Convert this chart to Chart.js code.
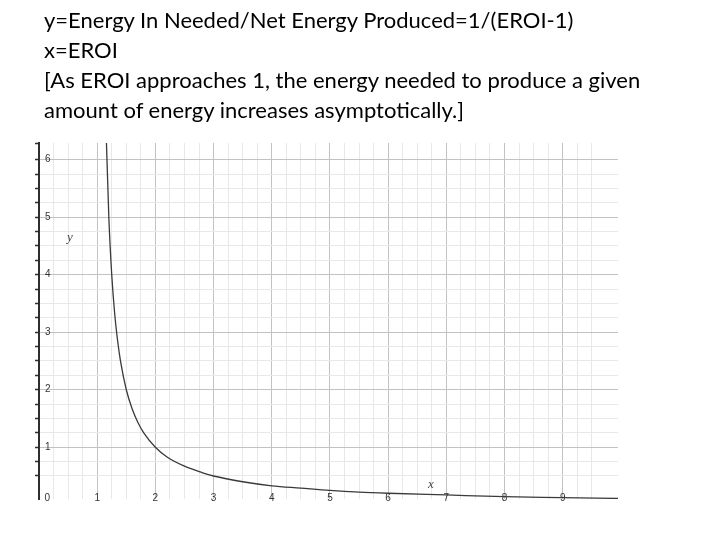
<!DOCTYPE html>
<html>
<head>
<meta charset="utf-8">
<script src="https://cdn.jsdelivr.net/npm/chart.js@4/dist/chart.umd.min.js"></script>
<style>
  body { margin: 0; background: #fff; }
  #wrap { position: relative; width: 720px; height: 540px; }
  #chart { position: absolute; left: 0; top: 0; }
  #caption { position: absolute; left: 44px; top: 5px; font-family: Lato, "Open Sans", sans-serif;
             font-size: 22px; line-height: 30px; color: #000; white-space: nowrap; }
  .axname { position: absolute; font-family: "Liberation Serif", "DejaVu Serif", serif;
            font-style: italic; font-size: 13px; color: #444; }
</style>
</head>
<body>
<div id="wrap">
  <canvas id="chart" width="720" height="540"></canvas>
  <div id="caption">
    y=Energy In Needed/Net Energy Produced=1/(EROI-1)<br>
    x=EROI<br>
    [As EROI approaches 1, the energy needed to produce a given<br>
    amount of energy increases asymptotically.]
  </div>
  <div class="axname" style="left:67px; top:229px;">y</div>
  <div class="axname" style="left:428px; top:476px;">x</div>
</div>
<script>
// points (EROI, energy in / net energy)
const eroi = [1.15, 1.2, 1.25, 1.3, 1.35, 1.4, 1.5, 1.6, 1.7, 1.8, 2, 2.2, 2.5, 2.8, 3, 3.5, 4, 4.5, 5, 5.5, 6, 7, 8, 9, 9.95];
const energyIn = [6.6, 5.0, 4.0, 3.33, 2.86, 2.5, 2.0, 1.67, 1.43, 1.25, 1.0, 0.83, 0.67, 0.56, 0.5, 0.4, 0.33, 0.29, 0.25, 0.22, 0.2, 0.17, 0.14, 0.125, 0.11];

// axis ranges and tick labels
const xRange = [0, 9.95];
const yRange = [0.1, 6.29];
const xLabels = ['      0', '1', '2', '3', '4', '5', '6', '7', '8', '9'];
const yLabels = ['', '1', '2', '3', '4', '5', '6'];

const points = eroi.map((x, i) => ({x: x, y: energyIn[i]}));

function onStep(v, step) {
  return Math.abs(v / step - Math.round(v / step)) < 1e-6;
}
function gridColor(ctx) {
  const v = ctx.tick ? ctx.tick.value : 0;
  if (!onStep(v, 0.25)) return 'rgba(0,0,0,0)';
  return onStep(v, 1) ? '#c2c2c2' : '#e8e8e8';
}

new Chart(document.getElementById('chart'), {
  type: 'scatter',
  data: {
    datasets: [{
      data: points,
      showLine: true,
      borderColor: '#3a3a3a',
      borderWidth: 1.3,
      pointRadius: 0,
      cubicInterpolationMode: 'monotone'
    }]
  },
  options: {
    responsive: false,
    animation: false,
    layout: { padding: { left: 29, right: 102, top: 143, bottom: 41 } },
    plugins: { legend: { display: false }, tooltip: { enabled: false } },
    scales: {
      x: {
        type: 'linear',
        min: xRange[0],
        max: xRange[1],
        afterFit: (s) => { s.height = 0; },
        border: { display: false },
        grid: { color: gridColor, lineWidth: 1, drawTicks: false },
        ticks: {
          stepSize: 0.25,
          autoSkip: false,
          maxRotation: 0,
          mirror: true,
          padding: -5,
          color: '#333',
          font: { family: 'Liberation Sans', size: 10 },
          callback: (v) => onStep(v, 1) ? xLabels[Math.round(v)] : ''
        }
      },
      y: {
        type: 'linear',
        min: yRange[0],
        max: yRange[1],
        afterFit: (s) => { s.width = 10; },
        border: { display: true, color: '#2e2e2e', width: 2 },
        grid: {
          color: gridColor,
          lineWidth: 1,
          drawTicks: true,
          tickLength: 4,
          tickColor: (ctx) => onStep(ctx.tick.value, 0.25) || ctx.tick.value > 6 ? '#2e2e2e' : 'rgba(0,0,0,0)',
          tickWidth: 1.5
        },
        ticks: {
          stepSize: 0.25,
          autoSkip: false,
          mirror: true,
          padding: 6,
          color: '#333',
          font: { family: 'Liberation Sans', size: 10 },
          callback: (v) => onStep(v, 1) ? yLabels[Math.round(v)] : ''
        }
      }
    }
  }
});
</script>
</body>
</html>
